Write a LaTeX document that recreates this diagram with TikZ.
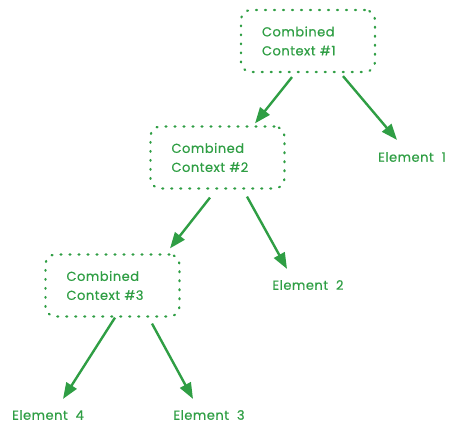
\documentclass[tikz,border=0pt]{standalone}
\usepackage{fontspec}
\setmainfont{Poppins}[WordSpace=2,FakeBold=0.6,LetterSpace=4]
\usetikzlibrary{arrows.meta,calc}
\definecolor{exgreen}{HTML}{2F9E44}
\begin{document}
\begin{tikzpicture}[x=1pt,y=-1pt,
  ctxbox/.style={draw=exgreen, line width=2.2pt, dash pattern=on 1pt off 8pt, line cap=round,
     rounded corners=10pt, minimum width=134pt, minimum height=62pt, text=exgreen,
     text width=92pt, align=left, font=\fontsize{13}{19}\selectfont, inner sep=0pt},
  elem/.style={text=exgreen, font=\fontsize{13}{14}\selectfont, inner sep=0pt},
  arr/.style={draw=exgreen, line width=2.4pt, -{Triangle[length=16pt,width=12pt]}, shorten >=0pt}]
\useasboundingbox (0,0) rectangle (458,438);
\node[ctxbox] (b1) at (308,41) {Combined\\Context \#1};
\node[ctxbox] (b2) at (217.5,157.5) {Combined\\Context \#2};
\node[ctxbox] (b3) at (112.5,285.5) {Combined\\Context \#3};
\node[elem] (e1) at (412,157) {Element 1};
\node[elem] (e2) at (308,285) {Element 2};
\node[elem] (e4) at (48,415) {Element 4};
\node[elem] (e3) at (209,415) {Element 3};
\draw[arr] ($(b1.south)+(-16,4)$) -- ($(b2.north)+(37.5,-2)$);
\draw[arr] ($(b1.south)+(35,3)$) -- ($(e1.north)+(-15,-12)$);
\draw[arr] ($(b2.south)+(-7.5,8)$) -- ($(b3.north)+(57.5,-5)$);
\draw[arr] ($(b2.south)+(29.5,7)$) -- ($(e2.north)+(-21,-11)$);
\draw[arr] ($(b3.south)+(2.5,0)$) -- ($(e4.north)+(15,-11)$);
\draw[arr] ($(b3.south)+(39.5,6)$) -- ($(e3.north)+(-16,-11)$);
\end{tikzpicture}
\end{document}
